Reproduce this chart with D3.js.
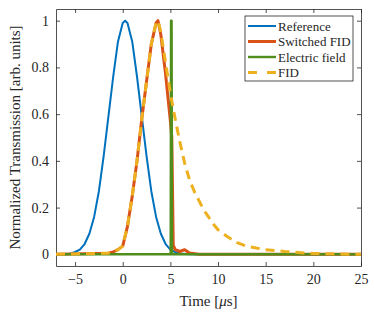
<!DOCTYPE html>
<meta charset="utf-8">
<style>
  body { margin: 0; background: #fff; }
  svg text { font-family: 'Liberation Serif', 'Times New Roman', serif; fill: #262626; }
  .axis path, .axis line { stroke: #262626; stroke-width: 0.8; }
</style>
<body>
<script src="https://cdn.jsdelivr.net/npm/d3@7"></script>
<script>

// series (time in microseconds, normalized transmission)
var refT = [-7, -6, -5.5, -5, -4.5, -4, -3.5, -3, -2.5, -2, -1.5, -1, -0.5, 0, 0.25, 0.5, 1, 1.5, 2, 2.5, 3, 3.5, 4, 4.5, 5, 5.5, 6, 7, 25];
var refY = [0, 0, 0.003, 0.01, 0.02, 0.044, 0.088, 0.16, 0.27, 0.42, 0.59, 0.76, 0.91, 0.99, 1, 0.99, 0.91, 0.76, 0.59, 0.42, 0.27, 0.16, 0.088, 0.044, 0.02, 0.01, 0.004, 0, 0];

var swT = [-7, -1.5, -1, -0.5, 0, 0.5, 1, 1.5, 2, 2.5, 3, 3.5, 3.7, 4, 4.5, 5, 5.15, 5.3, 5.5, 6, 6.5, 7, 8, 25];
var swY = [0, 0.005, 0.01, 0.02, 0.035, 0.12, 0.25, 0.4, 0.58, 0.74, 0.9, 0.99, 1, 0.94, 0.77, 0.57, 0.5, 0.04, 0.02, 0.012, 0.02, 0.006, 0, 0];

var efT = [-7, 5.03, 5.07, 5.13, 5.17, 25];
var efY = [0, 0, 1, 1, 0, 0];

var fidT = [-7, -1.5, -1, -0.5, 0, 0.5, 1, 1.5, 2, 2.5, 3, 3.5, 3.7, 4, 4.5, 5, 5.5, 6, 6.5, 7, 7.5, 8, 8.5, 9, 9.5, 10, 11, 12, 13, 14, 15, 16, 17, 18, 19, 20, 22, 25];
var fidY = [0, 0.005, 0.01, 0.02, 0.035, 0.12, 0.25, 0.4, 0.58, 0.74, 0.9, 0.99, 1, 0.95, 0.82, 0.69, 0.58, 0.48, 0.39, 0.32, 0.27, 0.23, 0.19, 0.16, 0.13, 0.105, 0.075, 0.05, 0.035, 0.027, 0.02, 0.016, 0.012, 0.009, 0.006, 0.004, 0.002, 0];

var xTicks = [-5, 0, 5, 10, 15, 20, 25];
var yTicks = [0, 0.2, 0.4, 0.6, 0.8, 1];

var legendNames = ["Reference", "Switched FID", "Electric field", "FID"];
var colors = ["#0072BD", "#D95319", "#4F8E1D", "#EDB120"];

var margin = {top: 9, right: 13, bottom: 47, left: 56},
    width = 374 - margin.left - margin.right,
    height = 313 - margin.top - margin.bottom;

var x = d3.scaleLinear().domain([-7, 25]).range([0, width]);
var y = d3.scaleLinear().domain([-0.05, 1.05]).range([height, 0]);

var svg = d3.select("body").append("svg")
    .attr("width", 374)
    .attr("height", 313)
  .append("g")
    .attr("transform", "translate(" + margin.left + "," + margin.top + ")");

svg.append("defs").append("clipPath").attr("id", "clip")
  .append("rect").attr("width", width).attr("height", height);

// axes, ticks pointing inwards like matlab
svg.append("g").attr("class", "axis")
    .attr("transform", "translate(0," + height + ")")
    .call(d3.axisBottom(x).tickValues(xTicks).tickSize(-4).tickSizeOuter(0).tickPadding(8))
    .selectAll("text").style("font-size", "14px");
svg.append("g").attr("class", "axis")
    .call(d3.axisTop(x).tickValues(xTicks).tickSize(-4).tickSizeOuter(0).tickFormat(""));
svg.append("g").attr("class", "axis")
    .call(d3.axisLeft(y).tickValues(yTicks).tickSize(-4).tickSizeOuter(0).tickPadding(7)
      .tickFormat(function(d) { return String(d); }))
    .selectAll("text").style("font-size", "14px");
svg.append("g").attr("class", "axis")
    .attr("transform", "translate(" + width + ",0)")
    .call(d3.axisRight(y).tickValues(yTicks).tickSize(-4).tickSizeOuter(0).tickFormat(""));

var line = d3.line()
    .x(function(d) { return x(d[0]); })
    .y(function(d) { return y(d[1]); });

var series = [
  {t: refT, v: refY, w: 2, dash: null},
  {t: swT, v: swY, w: 3, dash: null},
  {t: efT, v: efY, w: 2.4, dash: null},
  {t: fidT, v: fidY, w: 3, dash: "9,6"}
];

var plot = svg.append("g").attr("clip-path", "url(#clip)");
series.forEach(function(s, i) {
  plot.append("path")
      .datum(d3.zip(s.t, s.v))
      .attr("fill", "none")
      .attr("stroke", colors[i])
      .attr("stroke-width", s.w)
      .attr("stroke-dasharray", s.dash)
      .attr("stroke-linejoin", "round")
      .attr("d", line);
});

// legend
var lg = svg.append("g").attr("transform", "translate(189,7)");
lg.append("rect")
    .attr("width", 108).attr("height", 65)
    .attr("fill", "#fff").attr("stroke", "#262626").attr("stroke-width", 0.8);
legendNames.forEach(function(n, i) {
  var yy = 10 + i * 15.5;
  lg.append("line")
      .attr("x1", 3).attr("x2", 31).attr("y1", yy).attr("y2", yy)
      .attr("stroke", colors[i])
      .attr("stroke-width", series[i].w)
      .attr("stroke-dasharray", i == 3 ? "9,10" : null);
  lg.append("text")
      .attr("x", 33).attr("y", yy)
      .attr("dy", "0.35em")
      .style("font-size", "13px")
      .text(n);
});

// axis labels
svg.append("text")
    .attr("x", width / 2).attr("y", height + 40)
    .style("text-anchor", "middle")
    .style("font-size", "15px")
    .html("Time [<tspan font-style='italic'>&#956;</tspan>s]");

svg.append("text")
    .attr("transform", "rotate(-90)")
    .attr("x", -height / 2).attr("y", -36)
    .style("text-anchor", "middle")
    .style("font-size", "15px")
    .text("Normalized Transmission [arb. units]");

</script>
</body>
